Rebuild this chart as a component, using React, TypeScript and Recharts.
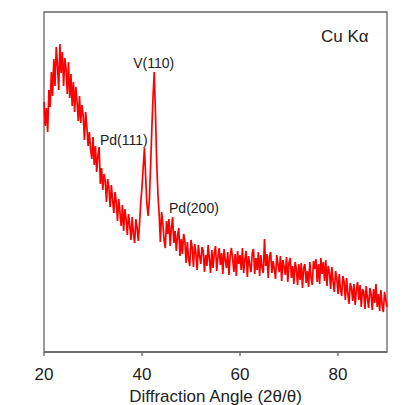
import React from 'react';
import {
  LineChart,
  Line,
  XAxis,
  YAxis,
  ReferenceArea,
  ReferenceDot,
} from 'recharts';

// XRD scan, 2θ from 20° to 90°, sampled every 0.25°
const START_ANGLE = 20;
const STEP = 0.25;

// amorphous hump region, 20° - 26°
const humpCounts = [
  250, 226, 244, 220, 262, 245, 280, 256, 293, 266, 305, 287, 262, 308, 279, 300, 266, 294, 283, 258,
  290, 254, 278, 246, 270,
];

// falling background, 26.25° - 39.5° (small Pd(111) spike near 31°)
const slopeCounts = [
  240, 265, 250, 231, 256, 229, 247, 236, 212, 240, 225, 206, 220, 203, 193, 215, 187, 206, 180, 196,
  205, 168, 184, 162, 178, 171, 150, 173, 164, 145, 167, 152, 139, 160, 150, 131, 153, 140, 126, 147,
  121, 143, 133, 117, 138, 127, 112, 135, 118, 109, 133, 124, 111, 128,
];

// Pd(111) and V(110) peaks, 39.75° - 44°
const peakCounts = [150, 165, 185, 204, 175, 148, 136, 152, 185, 222, 255, 280, 238, 190, 158, 138, 110, 140];

// tail, 44.25° - 90°
const tailCounts = [
  129, 112, 104, 131, 118, 133, 106, 124, 135, 109, 121, 101, 116, 124, 96, 113, 98, 118, 111, 89,
  110, 93, 86, 112, 104, 85, 108, 99, 82, 107, 96, 88, 105, 101, 80, 97, 86, 107, 93, 79,
  102, 84, 99, 106, 81, 95, 104, 87, 99, 78, 103, 92, 84, 100, 77, 96, 104, 93, 80, 98,
  76, 101, 88, 97, 82, 104, 79, 93, 101, 75, 96, 87, 80, 99, 103, 78, 94, 82, 100, 76,
  97, 84, 79, 113, 86, 98, 74, 95, 100, 79, 91, 83, 73, 97, 88, 80, 96, 71, 92, 85,
  77, 95, 70, 89, 94, 74, 86, 68, 90, 83, 67, 88, 72, 89, 64, 84, 88, 69, 81, 65,
  90, 74, 67, 91, 83, 93, 70, 88, 68, 94, 78, 90, 71, 92, 66, 86, 80, 63, 85, 70,
  60, 81, 74, 58, 78, 62, 56, 76, 70, 52, 74, 59, 48, 69, 64, 51, 68, 47, 62, 70,
  52, 67, 45, 63, 60, 43, 66, 54, 44, 64, 58, 42, 63, 49, 68, 45, 58, 41, 62, 47,
  40, 60, 52, 45,
];

const xTicks = [20, 40, 60, 80];

const intensity = [...humpCounts, ...slopeCounts, ...peakCounts, ...tailCounts];
const data = intensity.map((v, i) => ({ angle: START_ANGLE + i * STEP, counts: v }));

const FONT = '"Liberation Sans", Arial, sans-serif';
const AXIS_COLOR = '#666';

export default function App() {
  return (
    <div style={{ position: 'absolute', left: 0, top: 0, width: 402, height: 405, background: '#fff' }}>
      <LineChart
        width={402}
        height={405}
        data={data}
        margin={{ top: 12, right: 15, left: 44, bottom: 0 }}
        style={{ fontFamily: FONT }}
      >
        <XAxis
          dataKey="angle"
          type="number"
          domain={[20, 90]}
          ticks={xTicks}
          height={53}
          tickSize={4}
          tickMargin={12}
          stroke={AXIS_COLOR}
          strokeWidth={1.3}
          tick={{ fill: '#222', fontSize: 17 }}
          label={{
            value: 'Diffraction Angle (2θ/θ)',
            position: 'insideBottom',
            offset: 3,
            fill: '#222',
            fontSize: 17,
          }}
        />
        <YAxis
          type="number"
          domain={[0, 340]}
          width={0}
          tick={false}
          tickLine={false}
          stroke={AXIS_COLOR}
          strokeWidth={1.3}
          label={{
            value: 'Intensity (a.u.)',
            angle: -90,
            position: 'insideLeft',
            offset: -17,
            fill: '#222',
            fontSize: 17,
            style: { textAnchor: 'middle' },
          }}
        />
        <ReferenceArea
          x1={20}
          x2={90}
          y1={0}
          y2={340}
          fill="none"
          stroke={AXIS_COLOR}
          strokeWidth={1.3}
        />
        <Line
          type="linear"
          dataKey="counts"
          stroke="#ff0000"
          strokeWidth={1.7}
          strokeLinejoin="miter"
          dot={false}
          isAnimationActive={false}
        />
        <ReferenceDot x={42.4} y={289} r={0} label={{ value: 'V(110)', position: 'center', fontSize: 14, fill: '#222' }} />
        <ReferenceDot x={36.3} y={212} r={0} label={{ value: 'Pd(111)', position: 'center', fontSize: 14, fill: '#222' }} />
        <ReferenceDot x={50.6} y={144} r={0} label={{ value: 'Pd(200)', position: 'center', fontSize: 14, fill: '#222' }} />
        <ReferenceDot x={81.4} y={316} r={0} label={{ value: 'Cu Kα', position: 'center', fontSize: 17, fill: '#222' }} />
      </LineChart>
    </div>
  );
}
